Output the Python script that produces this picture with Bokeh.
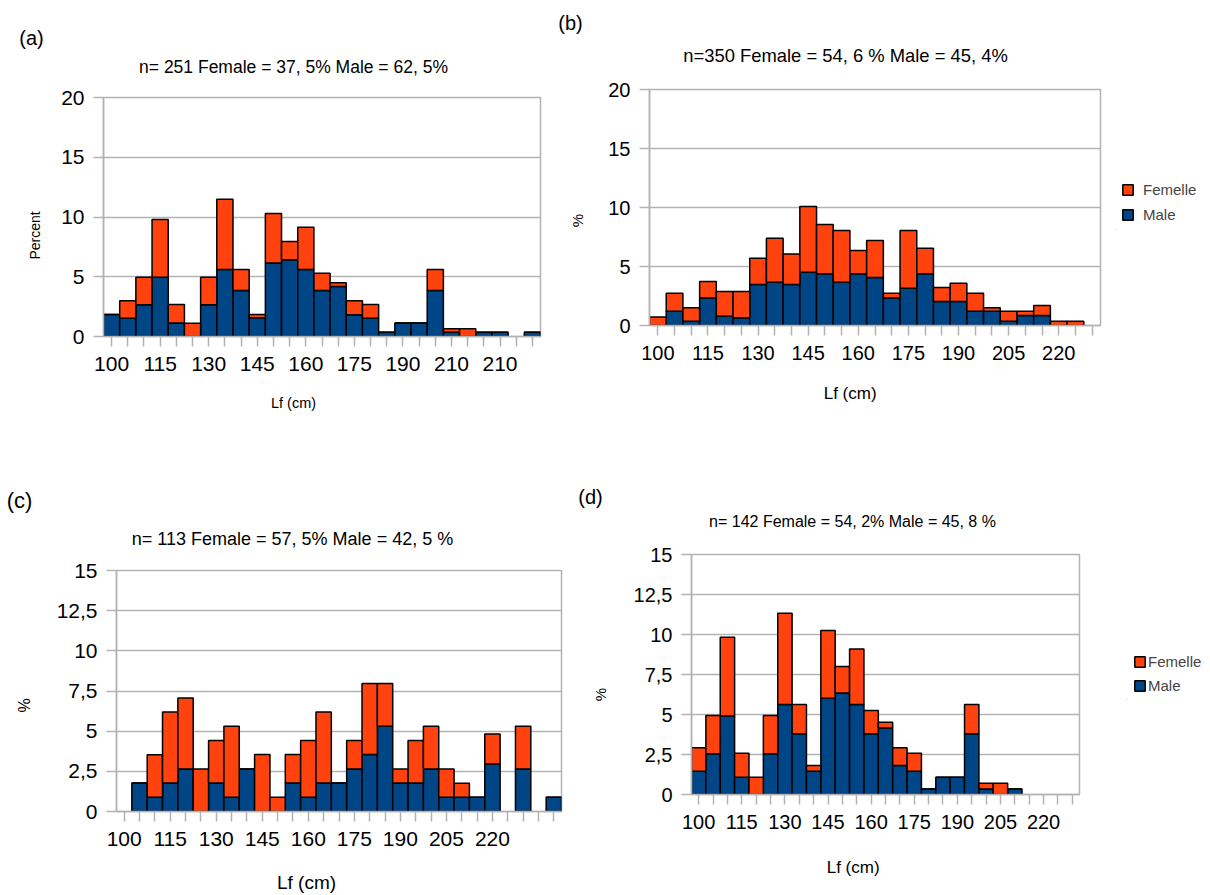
import math
from bokeh.plotting import figure
from bokeh.models import (ColumnDataSource, FixedTicker, Label, Legend,
                          LegendItem, Range1d)
from bokeh.embed import file_html
from bokeh.resources import INLINE

BLUE = "#004586"
ORANGE = "#FF420E"
GRID = "#b3b3b3"
FONT = "Liberation Sans"

# ---------------- data (percent per 5 cm length class) ----------------
a_male = [1.84, 1.53, 2.65, 4.96, 1.14, 0, 2.65, 5.6, 3.84, 1.56, 6.16, 6.43, 5.6, 3.84,
          4.18, 1.81, 1.53, 0.36, 1.14, 1.14, 3.84, 0.36, 0, 0.36, 0.36, 0, 0.36]
a_female = [0, 1.47, 2.31, 4.84, 1.53, 1.11, 2.31, 5.88, 1.76, 0.28, 4.14, 1.51, 3.54, 1.46,
            0.32, 1.19, 1.14, 0, 0, 0, 1.76, 0.28, 0.64, 0, 0, 0, 0]
a_labels = ["100", "115", "130", "145", "160", "175", "190", "210", "210"]

b_male = [0, 1.21, 0.37, 2.34, 0.79, 0.65, 3.47, 3.67, 3.47, 4.52, 4.38, 3.67, 4.38, 4.07,
          2.34, 3.16, 4.38, 2.03, 2.03, 1.21, 1.21, 0.37, 0.85, 0.85, 0, 0, 0]
b_female = [0.71, 1.53, 1.13, 1.39, 2.09, 2.23, 2.23, 3.73, 2.58, 5.56, 4.18, 4.38, 1.98, 3.13,
            0.40, 4.89, 2.17, 1.19, 1.56, 1.53, 0.29, 0.84, 0.36, 0.84, 0.37, 0.37, 0]
b_labels = ["100", "115", "130", "145", "160", "175", "190", "205", "220"]

c_male = [0, 1.77, 0.88, 1.77, 2.65, 0, 1.77, 0.88, 2.65, 0, 0, 1.77, 0.88, 1.77, 1.77,
          2.65, 3.54, 5.31, 1.77, 1.77, 2.65, 0.88, 0.88, 0.88, 2.95, 0, 2.65, 0, 0.88]
c_female = [0, 0, 2.65, 4.42, 4.42, 2.65, 2.65, 4.42, 0, 3.54, 0.88, 1.77, 3.54, 4.42, 0,
            1.77, 4.42, 2.65, 0.88, 2.65, 2.65, 1.77, 0.88, 0, 1.87, 0, 2.65, 0, 0]
c_labels = ["100", "115", "130", "145", "160", "175", "190", "205", "220"]

d_male = [1.46, 2.54, 4.9, 1.08, 0, 2.54, 5.63, 3.79, 1.46, 6.02, 6.35, 5.63, 3.79, 4.15,
          1.81, 1.46, 0.35, 1.08, 1.08, 3.79, 0.35, 0, 0.35, 0, 0, 0, 0]
d_female = [1.46, 2.40, 4.93, 1.50, 1.08, 2.40, 5.70, 1.84, 0.35, 4.23, 1.65, 3.47, 1.46, 0.37,
            1.11, 1.12, 0, 0, 0, 1.84, 0.36, 0.71, 0, 0, 0, 0, 0]
d_labels = ["100", "115", "130", "145", "160", "175", "190", "205", "220"]

titles = ["n= 251 Female = 37, 5% Male = 62, 5%",
          "n=350 Female = 54, 6 % Male = 45, 4%",
          "n= 113 Female = 57, 5% Male = 42, 5 %",
          "n= 142 Female = 54, 2% Male = 45, 8 %"]
tags = ["(a)", "(b)", "(c)", "(d)"]
ytitles = ["Percent", "%", "%", "%"]
xtitles = ["Lf (cm)", "Lf  (cm)", "Lf (cm)", "Lf  (cm)"]
legend_labels = ["Femelle", "Male"]


def fmt(v):
    return ("%g" % v).replace(".", ",")


def place(left, top):
    return {"position": "absolute", "left": "%dpx" % left, "top": "%dpx" % top}


def lab(txt, x, y, size, ang=0.0):
    return Label(x=x, y=y, x_units="screen", y_units="screen", text=txt,
                 text_font=FONT, text_font_size=size, text_color="black",
                 text_align="center", text_baseline="middle", angle=ang)


def panel(male, female, labels, ymax, ystep, pos, width, height, borders, tick_size,
          title, tag, ytitle, xtitle):
    n = len(male)
    left, right, top, bottom = borders
    p = figure(width=width, height=height, output_backend="svg",
               toolbar_location=None, title=None,
               x_range=Range1d(-0.5, n - 0.5), y_range=Range1d(0, ymax),
               min_border_left=left, min_border_right=right,
               min_border_top=top, min_border_bottom=bottom,
               background_fill_color="white", border_fill_color="white",
               styles=place(*pos))
    p.outline_line_color = GRID
    p.outline_line_width = 1.5

    idx = [i for i in range(n) if male[i] + female[i] > 0]
    src = ColumnDataSource(dict(x=idx, male=[male[i] for i in idx],
                                female=[female[i] for i in idx]))
    p.vbar_stack(["male", "female"], x="x", width=1, source=src,
                 color=[BLUE, ORANGE], line_color="black", line_width=1.5)

    xa = p.xaxis[0]
    xa.ticker = FixedTicker(ticks=list(range(n)))
    xa.major_label_overrides = {i: (labels[i // 3] if i % 3 == 0 and i // 3 < len(labels) else "")
                                for i in range(n)}
    yt = []
    v = 0.0
    while v <= ymax + 1e-9:
        yt.append(v)
        v += ystep
    ya = p.yaxis[0]
    ya.ticker = FixedTicker(ticks=yt)
    ya.major_label_overrides = {t: fmt(t) for t in yt}
    for ax in (xa, ya):
        ax.axis_line_color = GRID
        ax.axis_line_width = 1.5
        ax.major_tick_line_color = GRID
        ax.major_tick_line_width = 1.5
        ax.major_tick_out = 10
        ax.major_tick_in = 0
        ax.minor_tick_line_color = None
        ax.major_label_text_font = FONT
        ax.major_label_text_font_size = tick_size
        ax.major_label_text_color = "black"
    xa.major_label_standoff = 10
    ya.major_label_standoff = 9
    p.xgrid.grid_line_color = None
    p.ygrid.grid_line_color = GRID
    p.ygrid.grid_line_width = 1.5

    # side-panel labels (panels stack outward from the frame)
    p.add_layout(lab(*title), "above")
    p.add_layout(lab(*tag), "above")
    p.add_layout(lab(*ytitle), "left")
    p.add_layout(lab(*xtitle), "below")
    return p


def legend_fig(pos, width, height, loc, spacing, standoff):
    f = figure(width=width, height=height, output_backend="svg",
               toolbar_location=None, title=None,
               x_range=Range1d(0, 1), y_range=Range1d(0, 1),
               x_axis_location=None, y_axis_location=None, min_border=0,
               background_fill_color=None, border_fill_color=None,
               styles=place(*pos))
    f.outline_line_color = None
    f.grid.grid_line_color = None
    # swatch renderers: their single bar lies entirely outside the visible ranges
    rf = f.vbar(x=[-5], top=[-5], bottom=[-6], width=1, fill_color=ORANGE,
                line_color="black", line_width=1.5)
    rm = f.vbar(x=[-5], top=[-5], bottom=[-6], width=1, fill_color=BLUE,
                line_color="black", line_width=1.5)
    leg = Legend(items=[LegendItem(label=legend_labels[0], renderers=[rf]),
                        LegendItem(label=legend_labels[1], renderers=[rm])],
                 location=loc, padding=0, margin=0, spacing=spacing,
                 glyph_width=13, glyph_height=13, label_standoff=standoff,
                 label_height=13, label_text_font=FONT, label_text_font_size="15px",
                 background_fill_alpha=0, border_line_alpha=0)
    f.add_layout(leg)
    return f


R = math.pi / 2
# frames (page px): A(103..540, 97..336) B(649..1100, 89..325)
#                   C(116..561, 570..811) D(691..1079, 554..794)
pA = panel(a_male, a_female, a_labels, 20, 5, (0, 0), 545, 458, (103, 5, 97, 122), "21px",
           (titles[0], 190, 31, "17.5px"), (tags[0], -72, 39.5, "20px"),
           (ytitles[0], -8, 101, "14px", R), (xtitles[0], 190, -13.8, "14.5px"))
pB = panel(b_male, b_female, b_labels, 20, 5, (545, 0), 560, 458, (104, 5, 89, 133), "20px",
           (titles[1], 196, 34, "18.4px"), (tags[1], -79, 45.4, "20px"),
           (ytitles[1], -11, 105, "15px", R), (xtitles[1], 203, -12, "17px"))
lB = legend_fig((1115, 175), 90, 55, (6, 7), 8, 9)
pC = panel(c_male, c_female, c_labels, 15, 2.5, (0, 458), 570, 437, (116, 9, 112, 84), "21px",
           (titles[2], 176, 32, "18px"), (tags[2], -97, 49.9, "22px"),
           (ytitles[2], -12, 106, "16px", R), (xtitles[2], 190, -12.8, "19px"))
pD = panel(d_male, d_female, d_labels, 15, 2.5, (570, 458), 520, 437, (121, 11, 96, 101), "20px",
           (titles[3], 161, 33, "16px"), (tags[3], -101, 41, "20px"),
           (ytitles[3], -13, 100, "15px", R), (xtitles[3], 164, -17, "17px"))
lD = legend_fig((1127, 645), 80, 55, (6, 6), 7, 2)

open("out.html", "w").write(file_html([pA, pB, lB, pC, pD, lD], INLINE))
